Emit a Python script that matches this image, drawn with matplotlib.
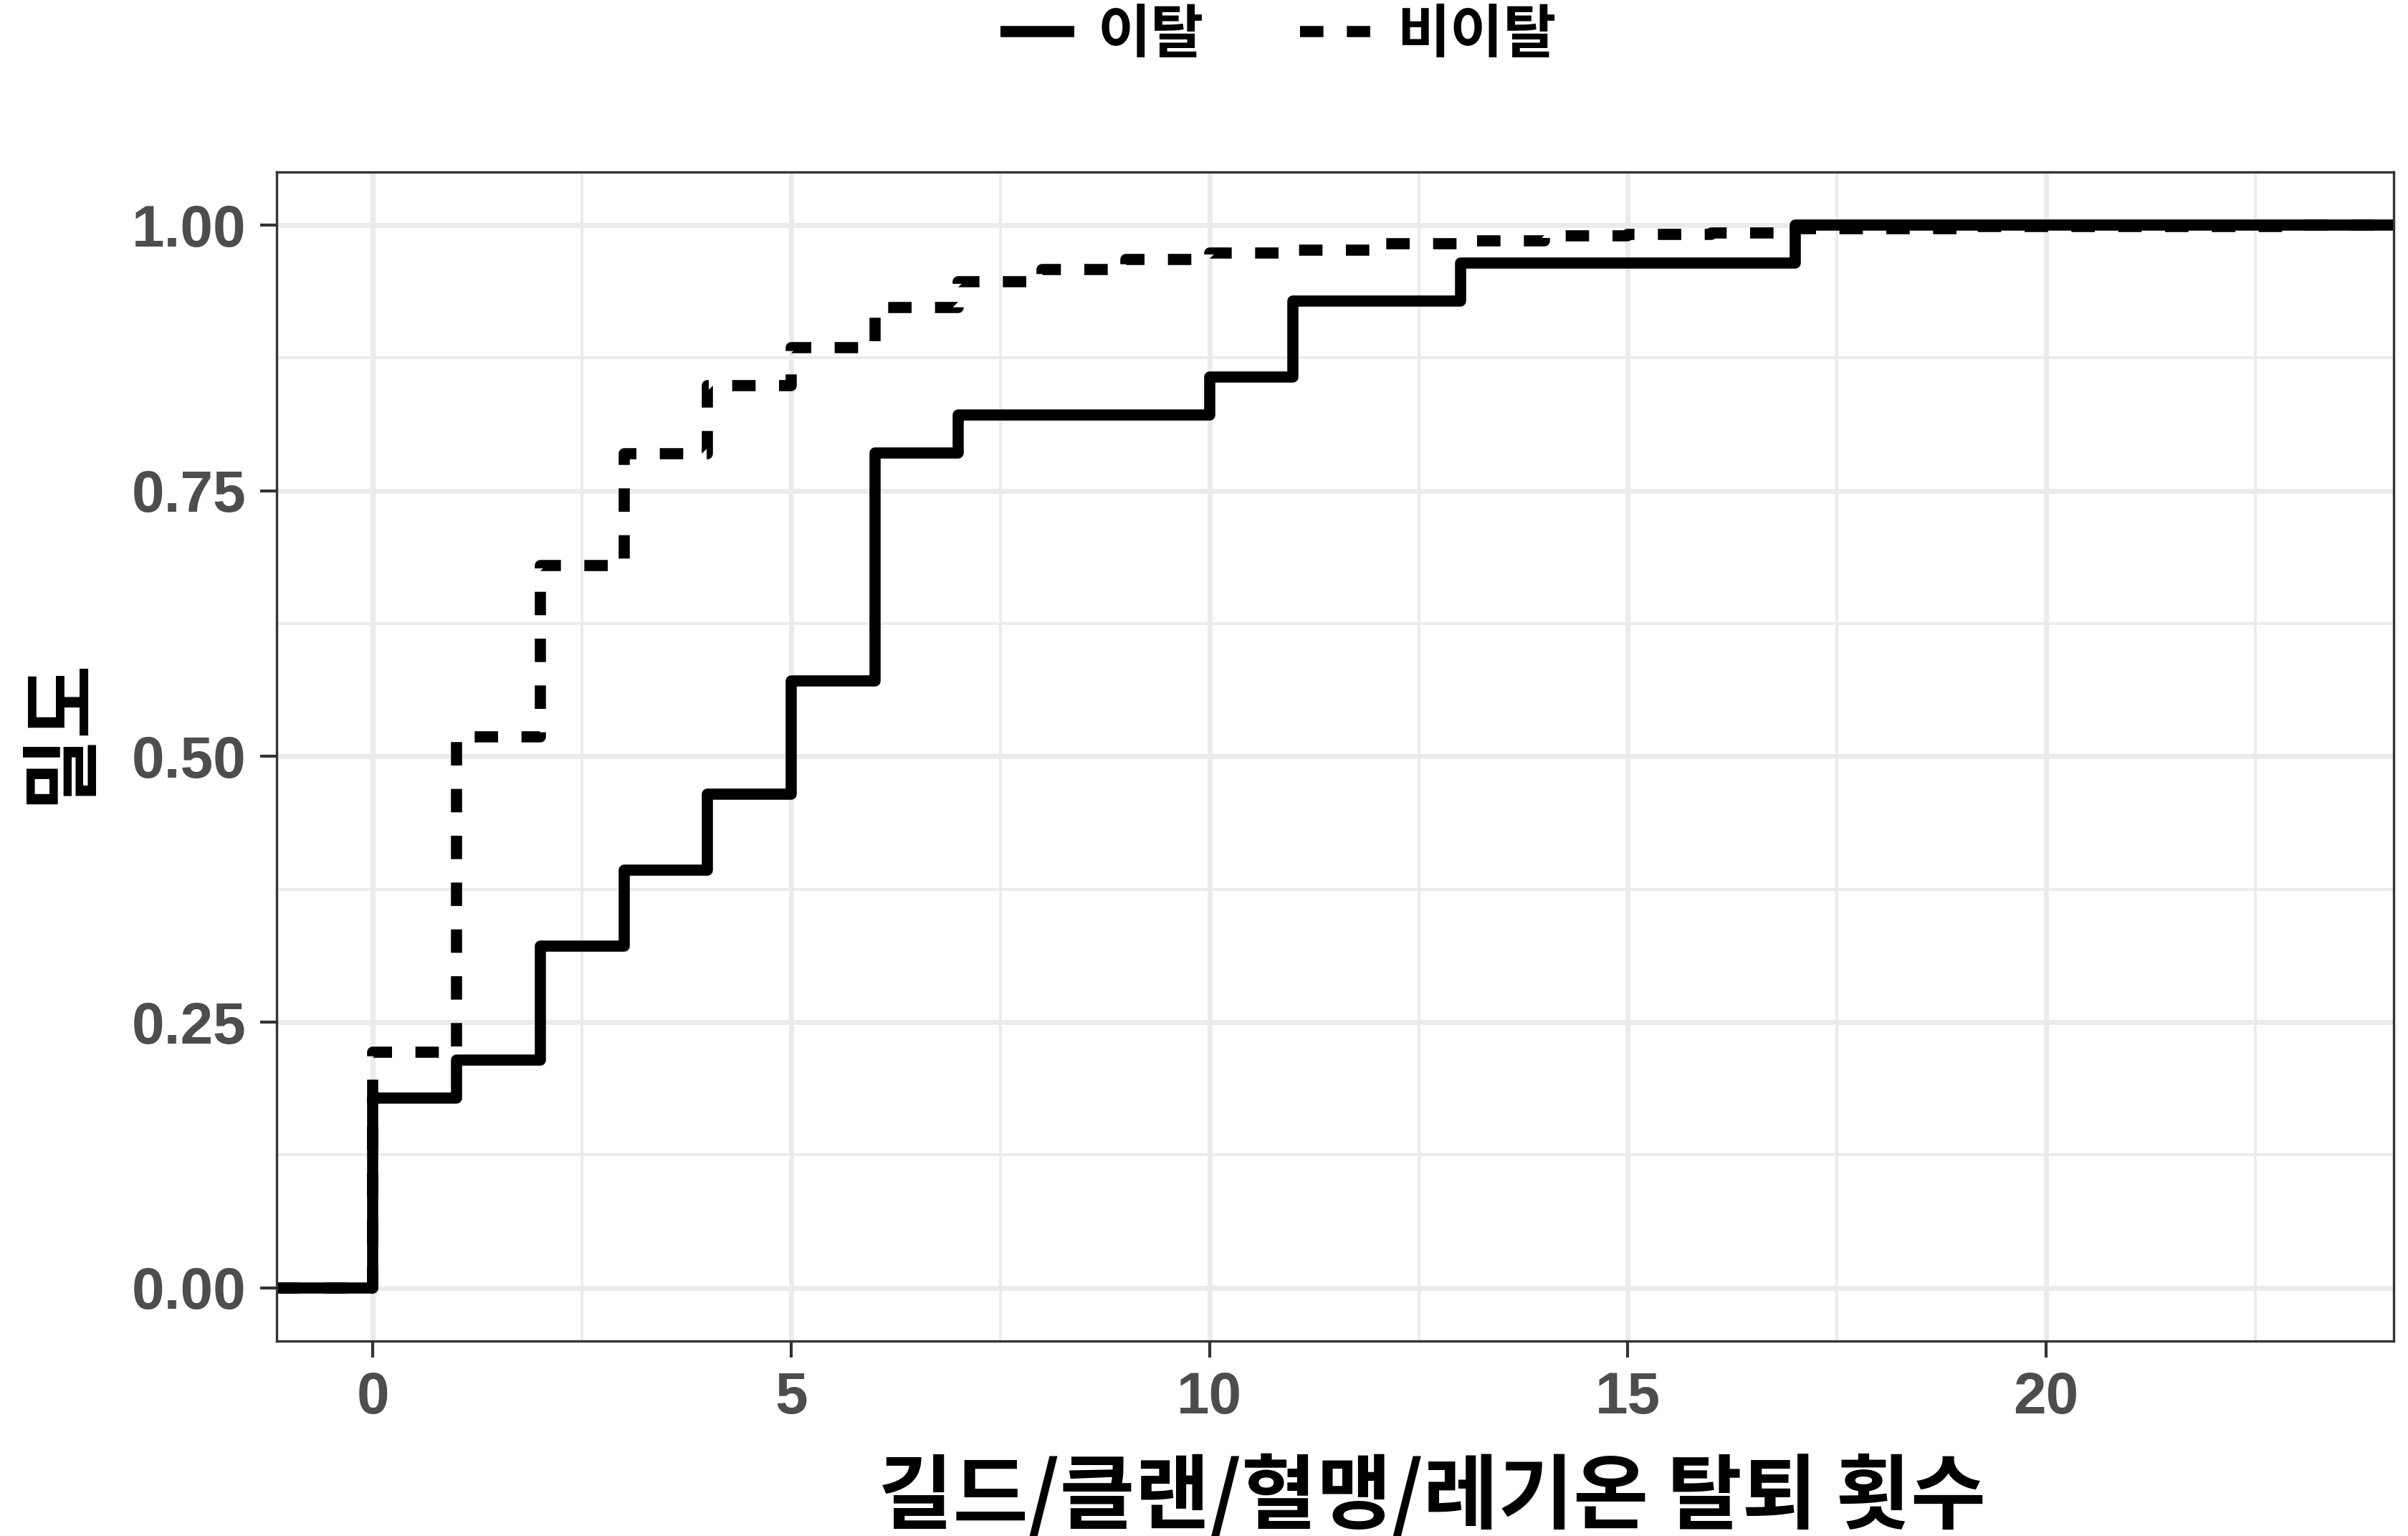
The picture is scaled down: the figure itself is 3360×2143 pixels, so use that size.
import numpy as np
import matplotlib
matplotlib.use("Agg")
import matplotlib.pyplot as plt
from matplotlib.ticker import MultipleLocator, FixedLocator, FuncFormatter

# ---- data -------------------------------------------------------------
# churned players: number of guild/clan leaves per player (counts per value)
churn_values = [0, 1, 2, 3, 4, 5, 6, 7, 10, 11, 13, 17]
churn_counts = [5, 1, 3, 2, 2, 3, 6, 1, 1, 2, 1, 1]

# retained players: cumulative share at each observed value
stay_values = [0, 1, 2, 3, 4, 5, 6, 7, 8, 9, 10, 11, 12, 13, 14, 15, 16, 17, 19, 23]
stay_cum = [0.2215, 0.5186, 0.680, 0.7847, 0.8487, 0.8845, 0.9227, 0.9471,
            0.9582, 0.9680, 0.9740, 0.9765, 0.9825, 0.9850, 0.9900, 0.9914,
            0.9928, 0.9970, 0.9985, 1.0]

series_labels = ["이탈", "비이탈"]
x_ticks = [0, 5, 10, 15, 20]
y_ticks = [0.00, 0.25, 0.50, 0.75, 1.00]
x_title = "길드/클랜/혈맹/레기온 탈퇴 횟수"
y_title = "밀도"

# ---- styling ----------------------------------------------------------
KR = ["Noto Sans CJK KR", "DejaVu Sans"]
LAT = ["Liberation Sans", "DejaVu Sans"]
GRID = "#EBEBEB"
DARK = "#333333"
TICK_TXT = "#4D4D4D"
LW = 5.6

fig = plt.figure(figsize=(16.8, 10.715), dpi=200)
ax = fig.add_axes([0.1149, 0.127, 0.879, 0.761])

all_x = churn_values + stay_values
span = max(all_x) - min(all_x)
x_lo = min(all_x) - 0.05 * span
x_hi = max(all_x) + 0.05 * span
ax.set_xlim(x_lo, x_hi)
ax.set_ylim(-0.05, 1.05)

# ecdf with padding to the panel edges
churn_cum = np.cumsum(churn_counts) / np.sum(churn_counts)
cx = np.r_[x_lo, churn_values, x_hi]
cy = np.r_[0.0, churn_cum, churn_cum[-1]]
sx = np.r_[x_lo, stay_values, x_hi]
sy = np.r_[0.0, stay_cum, stay_cum[-1]]

ax.step(cx, cy, where="post", color="black", lw=LW, label=series_labels[0],
        solid_joinstyle="round", solid_capstyle="butt", zorder=3)
ax.step(sx, sy, where="post", color="black", lw=LW, label=series_labels[1],
        linestyle=(0, (2.1, 2.1)), dash_joinstyle="round",
        dash_capstyle="butt", zorder=3)

# grid
ax.xaxis.set_major_locator(FixedLocator(x_ticks))
ax.xaxis.set_minor_locator(MultipleLocator(2.5))
ax.yaxis.set_major_locator(FixedLocator(y_ticks))
ax.yaxis.set_minor_locator(MultipleLocator(0.125))
ax.grid(which="major", color=GRID, lw=2.5, zorder=0)
ax.grid(which="minor", color=GRID, lw=1.4, zorder=0)
ax.set_axisbelow(True)

ax.xaxis.set_major_formatter(FuncFormatter(lambda v, p: f"{v:g}"))
ax.yaxis.set_major_formatter(FuncFormatter(lambda v, p: f"{v:.2f}"))

ax.tick_params(which="major", length=8.3, width=1.5, color=DARK, pad=7.0,
               labelsize=29.5, labelcolor=TICK_TXT)
ax.tick_params(which="minor", length=0)
for lab in ax.get_xticklabels() + ax.get_yticklabels():
    lab.set_family(LAT)
    lab.set_fontweight("bold")

for s in ax.spines.values():
    s.set_color(DARK)
    s.set_linewidth(1.2)
    s.set_zorder(5)

# axis titles
fig.text(1998 / 3360, 1 - 2090 / 2143, x_title, ha="center", va="center",
         fontsize=41, fontweight="bold", family=KR, color="black")
fig.text(84 / 3360, 1 - 1020 / 2143, y_title, ha="center", va="center",
         rotation=90, fontsize=40, fontweight="bold", family=KR, color="black")

# legend on top
leg = fig.legend(loc="center", bbox_to_anchor=(1784 / 3360, 1 - 49 / 2143),
                 ncol=2, frameon=False, handlelength=1.28, handletextpad=0.4,
                 columnspacing=1.67, borderpad=0.0,
                 prop={"family": KR, "weight": "bold", "size": 29})
for t in leg.get_texts():
    t.set_color("black")

fig.savefig("out.png", dpi=200, facecolor="white")
